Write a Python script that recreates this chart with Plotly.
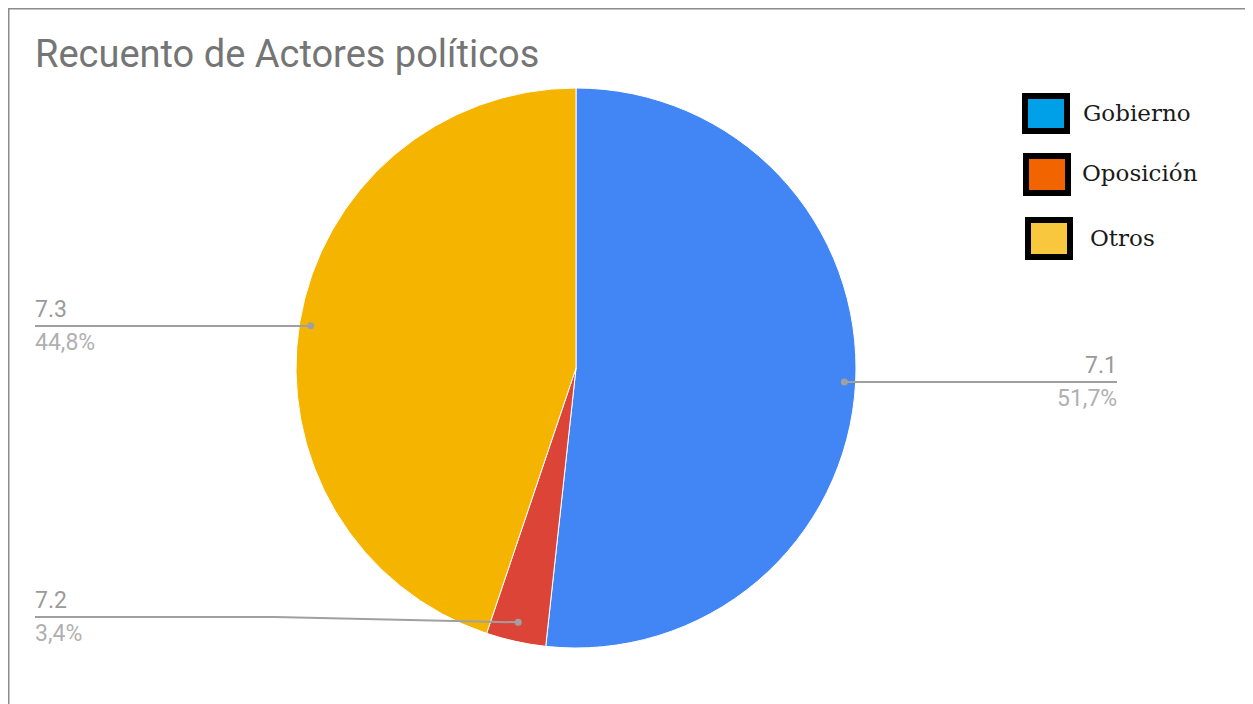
import math
import plotly.graph_objects as go

# ---- data ----
categories = ["7.1", "7.2", "7.3"]
counts = [15, 1, 13]
pct_labels = ["51,7%", "3,4%", "44,8%"]
slice_colors = ["#4285F4", "#DB4437", "#F4B400"]

legend_labels = ["Gobierno", "Oposición", "Otros"]
legend_colors = ["#00A0E9", "#F26400", "#F9C73D"]

title_text = "Recuento de Actores políticos"

OFF = 8  # page body margin
W, H = 1253 - OFF, 704 - OFF
CX, CY, R = 576, 368, 280

def px(x):
    return (x - OFF) / W

def py(y):
    return 1 - (y - OFF) / H

fig = go.Figure()
fig.add_trace(go.Pie(
    labels=categories,
    values=counts,
    sort=False,
    direction="clockwise",
    rotation=0,
    marker=dict(colors=slice_colors, line=dict(color="white", width=1)),
    textinfo="none",
    hoverinfo="label+percent",
    showlegend=False,
    domain=dict(x=[px(CX - R), px(CX + R)], y=[py(CY + R), py(CY - R)]),
))

shapes = []
annotations = []

# border of the image
shapes.append(dict(type="line", xref="paper", yref="paper", x0=0, x1=1, y0=1, y1=1,
                   line=dict(color="#8c8c8c", width=3)))
shapes.append(dict(type="line", xref="paper", yref="paper", x0=0, x1=0, y0=0, y1=1,
                   line=dict(color="#8c8c8c", width=3)))

# title
annotations.append(dict(text=title_text, xref="paper", yref="paper", x=px(33), y=py(54),
                        xanchor="left", yanchor="middle", showarrow=False,
                        font=dict(family="Roboto", size=38, color="#757575")))

# slice labels with leader lines
total = sum(counts)
cum = 0
label_layout = {
    # category: (text x, line y, side, kink x)
    "7.1": (1117, 382, "right", None),
    "7.2": (35, 617, "left", 275),
    "7.3": (35, 326, "left", None),
}
for cat, c, pl in zip(categories, counts, pct_labels):
    mid = (cum + c / 2) / total * 2 * math.pi
    cum += c
    dx = CX + 0.96 * R * math.sin(mid)
    dy = CY - 0.93 * R * math.cos(mid)
    tx, ly, side, kink = label_layout[cat]
    line_style = dict(color="#a0a0a0", width=2)
    if kink is None:
        shapes.append(dict(type="line", xref="paper", yref="paper", x0=px(tx), x1=px(dx), y0=py(ly), y1=py(ly),
                           line=line_style))
    else:
        shapes.append(dict(type="path", xref="paper", yref="paper",
                           path=f"M {px(tx)} {py(ly)} L {px(kink)} {py(ly)} L {px(dx)} {py(dy)}",
                           line=line_style))
    shapes.append(dict(type="circle", xref="paper", yref="paper",
                       x0=px(dx - 3.5), x1=px(dx + 3.5), y0=py(dy + 3.5), y1=py(dy - 3.5),
                       fillcolor="#a0a0a0", line=dict(width=0)))
    anchor = "left" if side == "left" else "right"
    annotations.append(dict(text=cat, xref="paper", yref="paper", x=px(tx - 2 if side == "left" else tx + 2), y=py(ly - 1),
                            xanchor=anchor, yanchor="bottom", showarrow=False,
                            font=dict(family="Roboto", size=23, color="#9a9a9a")))
    annotations.append(dict(text=pl, xref="paper", yref="paper", x=px(tx - 2 if side == "left" else tx + 2), y=py(ly + 1),
                            xanchor=anchor, yanchor="top", showarrow=False,
                            font=dict(family="Roboto", size=23, color="#b0b0b0")))

# custom legend
legend_boxes = [(1022, 93, 1070, 134), (1023, 153, 1071, 196), (1025, 217, 1073, 260)]
legend_text_pos = [(1081, 113), (1080, 173), (1088, 238)]
for lab, col, (x0, y0, x1, y1), (tx, ty) in zip(legend_labels, legend_colors, legend_boxes, legend_text_pos):
    shapes.append(dict(type="rect", xref="paper", yref="paper",
                       x0=px(x0 + 3), x1=px(x1 - 3), y0=py(y1 - 3), y1=py(y0 + 3),
                       fillcolor=col, line=dict(color="#000000", width=6)))
    annotations.append(dict(text=lab, xref="paper", yref="paper", x=px(tx), y=py(ty),
                            xanchor="left", yanchor="middle", showarrow=False,
                            font=dict(family="DejaVu Serif", size=23, color="#1a1a1a")))

fig.update_layout(
    width=W, height=H,
    margin=dict(l=0, r=0, t=0, b=0),
    paper_bgcolor="white",
    plot_bgcolor="white",
    shapes=shapes,
    annotations=annotations,
)

fig.write_html("out.html")
